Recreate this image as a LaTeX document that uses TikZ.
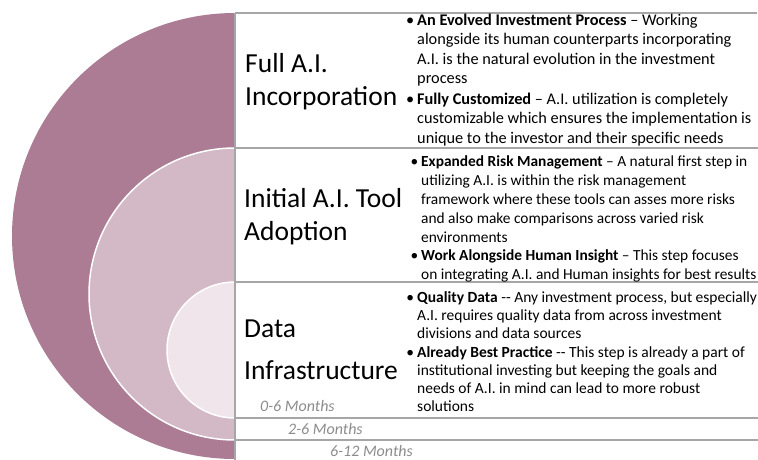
\documentclass[tikz,border=0pt]{standalone}
\usepackage{fontspec}
\setmainfont{Carlito}
\definecolor{outerc}{HTML}{AB7C94}
\definecolor{midc}{HTML}{D3B8C6}
\definecolor{innerc}{HTML}{F0E5EB}
\definecolor{rulec}{HTML}{A6A6A6}
\definecolor{monthc}{HTML}{8C8C8C}
\newcommand{\bp}{\llap{•\hspace{3pt}}}
\begin{document}
\begin{tikzpicture}[x=1pt,y=-1pt,
  rule/.style={draw=rulec,line width=1.5pt},
  ring/.style={draw=white,line width=1.5pt},
  stage/.style={anchor=base west,inner sep=0pt,font=\fontsize{27.5}{33}\selectfont},
  bul/.style={anchor=base west,inner sep=0pt,font=\fontsize{15.5}{19}\selectfont},
  bulA/.style={bul,font=\fontsize{16.3}{19.5}\selectfont},
  bulB/.style={bul,font=\fontsize{15.4}{18.9}\selectfont},
  bulC/.style={bul,font=\fontsize{15.5}{18}\selectfont},
  months/.style={anchor=base west,inner sep=0pt,text=monthc,font=\fontsize{16}{18}\selectfont\itshape}]
\useasboundingbox (0,0) rectangle (758,460);
\begin{scope}
  \clip (0,0) rectangle (235,460);
  \fill[outerc] (235,236) circle (223pt);
  \filldraw[fill=midc,ring] (235,294) circle (146pt);
  \filldraw[fill=innerc,ring] (235,350) circle (68pt);
\end{scope}
\draw[rule] (235,13) -- (757,13);
\draw[rule] (235,148) -- (758,148);
\draw[rule] (235,282) -- (758,282);
\draw[rule] (235,418) -- (758,418);
\draw[rule] (235,440) -- (758,440);
\draw[rule] (235,13) -- (235,460);

\node[stage] (s1a) at (245,73) {Full A.I.};
\node[stage] (s1b) at (245,106) {Incorporation};
\node[stage] (s2a) at (244,207) {Initial A.I. Tool};
\node[stage] (s2b) at (244,240) {Adoption};
\node[stage] (s3a) at (244,337) {Data};
\node[stage] (s3b) at (244,379) {Infrastructure};

\node[bulA] (b1a) at (417,25.5) {\begin{tabular}[t]{@{}l@{}}
\bp\textbf{An Evolved Investment Process} – Working\\
alongside its human counterparts incorporating\\
A.I. is the natural evolution in the investment\\
process\end{tabular}};
\node[bulA] (b1b) at (417,104.5) {\begin{tabular}[t]{@{}l@{}}
\bp\textbf{Fully Customized} – A.I. utilization is completely\\
customizable which ensures the implementation is\\
unique to the investor and their specific needs\end{tabular}};

\node[bulB] (b2a) at (421,166.5) {\begin{tabular}[t]{@{}l@{}}
\bp\textbf{Expanded Risk Management} – A natural first step in\\
utilizing A.I. is within the risk management\\
framework where these tools can asses more risks\\
and also make comparisons across varied risk\\
environments\end{tabular}};
\node[bulB] (b2b) at (421,260.5) {\begin{tabular}[t]{@{}l@{}}
\bp\textbf{Work Alongside Human Insight} – This step focuses\\
on integrating A.I. and Human insights for best results\end{tabular}};

\node[bulC] (b3a) at (417,302.5) {\begin{tabular}[t]{@{}l@{}}
\bp\textbf{Quality Data} -{}- Any investment process, but especially\\
A.I. requires quality data from across investment\\
divisions and data sources\end{tabular}};
\node[bulC] (b3b) at (417,357.5) {\begin{tabular}[t]{@{}l@{}}
\bp\textbf{Already Best Practice} -{}- This step is already a part of\\
institutional investing but keeping the goals and\\
needs of A.I. in mind can lead to more robust\\
solutions\end{tabular}};

\node[months] (m1) at (260,411.5) {0-6 Months};
\node[months] (m2) at (288,434.5) {2-6 Months};
\node[months] (m3) at (330,456.5) {6-12 Months};
\end{tikzpicture}
\end{document}
